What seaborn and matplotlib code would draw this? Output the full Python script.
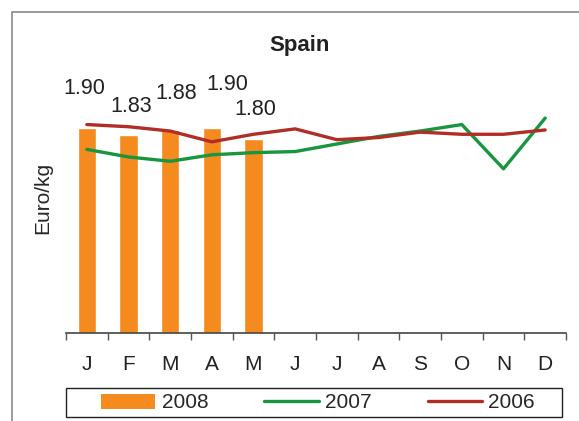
import numpy as np
import matplotlib
matplotlib.use('Agg')
import matplotlib.pyplot as plt
import pandas as pd
import seaborn as sns
from matplotlib.patches import Patch, Rectangle
from matplotlib.lines import Line2D

months = ['Jan', 'Feb', 'Mar', 'Apr', 'May', 'Jun', 'Jul', 'Aug', 'Sep', 'Oct', 'Nov', 'Dec']
month_letters = ['J', 'F', 'M', 'A', 'M', 'J', 'J', 'A', 'S', 'O', 'N', 'D']

# 2008 only Jan-May available
prices_2008 = [1.90, 1.83, 1.88, 1.90, 1.80]
prices_2007 = [1.70, 1.63, 1.59, 1.65, 1.67, 1.68, 1.75, 1.82, 1.87, 1.93, 1.52, 1.99]
prices_2006 = [1.93, 1.91, 1.87, 1.77, 1.84, 1.89, 1.79, 1.81, 1.86, 1.84, 1.84, 1.88]

c_2008 = '#F58A1F'
c_2007 = '#17963E'
c_2006 = '#B02E26'

sns.set_style('white')
plt.rcParams['font.family'] = ['Liberation Sans', 'DejaVu Sans']
fs = 15

fig = plt.figure(figsize=(5.79, 4.21), dpi=100)
ax = fig.add_axes([66 / 579, 1 - 333 / 421, 500 / 579, 270 / 421])

bars_df = pd.DataFrame({'month': months[:5], 'price': prices_2008})
sns.barplot(data=bars_df, x='month', y='price', order=months, color=c_2008,
            width=0.44, saturation=1, ax=ax)

x_pos = np.arange(len(months))
sns.lineplot(x=x_pos, y=prices_2007, color=c_2007, linewidth=2.4, ax=ax)
sns.lineplot(x=x_pos, y=prices_2006, color=c_2006, linewidth=2.4, ax=ax)

# data labels, offsets in points (excel placed them a bit randomly)
label_offsets = [(-1.5, 28), (2, 21), (4.5, 26), (11, 31), (1.5, 21)]
for i, v in enumerate(prices_2008):
    ax.annotate(f'{v:.2f}', (i, v), xytext=label_offsets[i], textcoords='offset points',
                ha='center', va='center', fontsize=fs + 0.5, color='#222222')

ax.set_xlim(-0.5, 11.5)
ax.set_ylim(0, 2.5)
ax.set_yticks([])
ax.set_ylabel('Euro/kg', fontsize=fs, labelpad=10)
ax.set_xlabel('')
ax.set_xticks(x_pos)
ax.set_xticklabels(month_letters, fontsize=fs)
ax.set_xticks(np.arange(-0.5, 12, 1), minor=True)
ax.tick_params(axis='x', which='major', length=0, pad=16, colors='#222222')
ax.tick_params(axis='x', which='minor', length=5, width=1, color='#555555', direction='out', bottom=True)
for s in ['left', 'top', 'right']:
    ax.spines[s].set_visible(False)
ax.spines['bottom'].set_color('#444444')
ax.spines['bottom'].set_linewidth(1.2)
ax.patch.set_alpha(0)

fig.text(300 / 579, 1 - 45 / 421, 'Spain', ha='center', va='center',
         fontsize=fs + 1, fontweight='bold', color='#222222')

# outer chart border
fig.patches.append(Rectangle((12 / 579, -0.1), 1.2, 1 - 12 / 421 + 0.1,
                             transform=fig.transFigure, fill=False,
                             edgecolor='#8a8a8a', linewidth=1.2))

# legend frame drawn separately so it can span the plot width
fig.patches.append(Rectangle((66 / 579, 1 - 417 / 421), 496 / 579, 29 / 421,
                             transform=fig.transFigure, fill=False,
                             edgecolor='#222222', linewidth=1.0))

handles = [Patch(facecolor=c_2008, edgecolor='none'),
           Line2D([], [], color=c_2007, linewidth=2.4),
           Line2D([], [], color=c_2006, linewidth=2.4)]
leg = fig.legend(handles, ['2008', '2007', '2006'], ncol=3,
                 bbox_to_anchor=(318 / 579, 1 - 403 / 421),
                 loc='center', fontsize=fs, frameon=False,
                 handlelength=2.6, handleheight=0.7, handletextpad=0.3,
                 columnspacing=2.7, borderpad=0, borderaxespad=0)

fig.savefig('out.png', dpi=100)
